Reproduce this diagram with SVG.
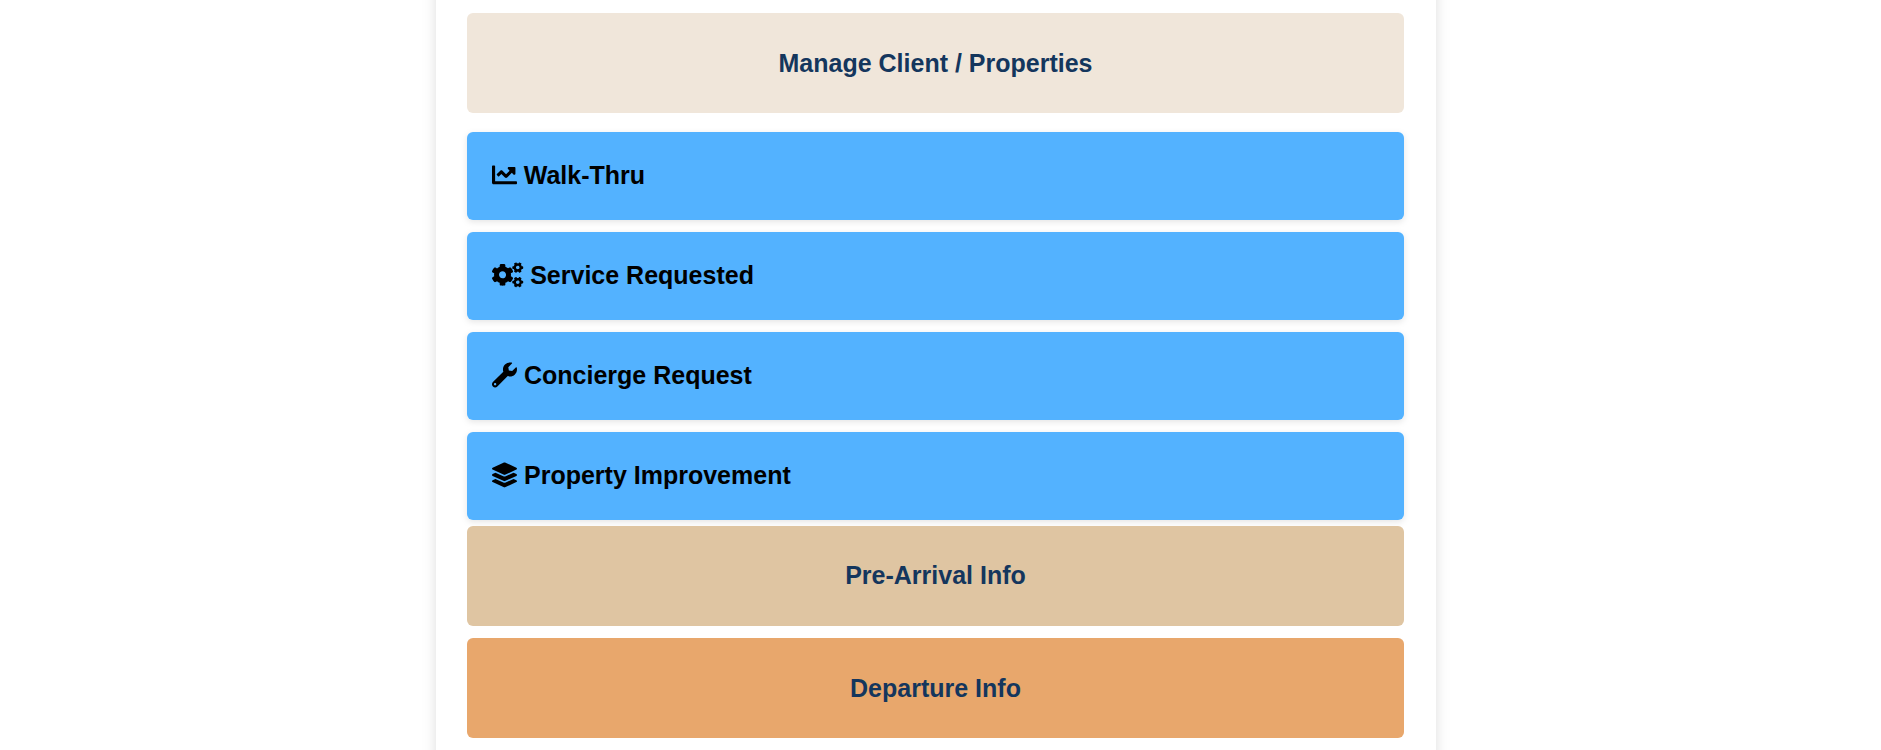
<svg xmlns="http://www.w3.org/2000/svg" width="1881" height="750" viewBox="0 0 1881 750">
<style>
text{font-family:"Liberation Sans",Arial,sans-serif;font-weight:700;font-size:25px}
.c{fill:#14365d;text-anchor:middle}
.b{fill:#000}
.blue{fill:#52b2ff;filter:url(#bs)}
</style>
<defs>
<filter id="cs" x="-5%" y="-10%" width="110%" height="120%"><feDropShadow dx="0" dy="0" stdDeviation="7" flood-color="#000" flood-opacity=".13"/></filter>
<filter id="bs" x="-3%" y="-30%" width="106%" height="160%"><feDropShadow dx="0" dy="2" stdDeviation="3" flood-color="#000" flood-opacity=".1"/></filter>
</defs>
<rect width="1881" height="750" fill="#fff"/>
<rect id="card" x="436" y="-40" width="1000" height="830" fill="#fff" filter="url(#cs)"/>
<g id="manage"><rect x="467" y="13" width="937" height="100" rx="6" fill="#f0e6da"/><text class="c" x="935.5" y="72">Manage Client / Properties</text></g>
<g id="walk-thru"><rect class="blue" x="467" y="132" width="937" height="88" rx="6"/>
<path transform="translate(492 162.4) scale(.0488)" d="M496 384H64V80c0-8.84-7.16-16-16-16H16C7.16 64 0 71.16 0 80v336c0 17.67 14.33 32 32 32h464c8.84 0 16-7.16 16-16v-32c0-8.84-7.16-16-16-16zM464 96H345.94c-21.38 0-32.09 25.85-16.97 40.97l32.4 32.4L288 242.75l-73.37-73.37c-12.5-12.5-32.76-12.5-45.25 0l-68.69 68.69c-6.25 6.25-6.25 16.38 0 22.63l22.62 22.62c6.25 6.25 16.38 6.25 22.63 0L192 237.25l73.37 73.37c12.5 12.5 32.76 12.5 45.25 0l96-96 32.4 32.4c15.12 15.12 40.97 4.41 40.97-16.97V112c.01-8.84-7.15-16-15.99-16z"/>
<text class="b" x="523.8" y="184">Walk-Thru</text></g>
<g id="service"><rect class="blue" x="467" y="232" width="937" height="88" rx="6"/>
<path transform="translate(492 262.4) scale(.0488)" d="M512.1 191l-8.2 14.3c-3 5.3-9.4 7.5-15.1 5.4-11.8-4.4-22.6-10.7-32.1-18.6-4.6-3.8-5.8-10.5-2.8-15.7l8.2-14.3c-6.9-8-12.3-17.3-15.9-27.4h-16.5c-6 0-11.2-4.3-12.2-10.3-2-12-2.1-24.6 0-37.1 1-6 6.2-10.4 12.2-10.4h16.5c3.6-10.1 9-19.4 15.9-27.4l-8.2-14.3c-3-5.2-1.9-11.9 2.8-15.7 9.5-7.9 20.4-14.2 32.1-18.6 5.7-2.1 12.1.1 15.1 5.4l8.2 14.3c10.5-1.9 21.2-1.9 31.7 0L552 6.3c3-5.3 9.4-7.5 15.1-5.4 11.8 4.4 22.6 10.7 32.1 18.6 4.6 3.8 5.8 10.5 2.8 15.7l-8.2 14.3c6.9 8 12.3 17.3 15.9 27.4h16.5c6 0 11.2 4.3 12.2 10.3 2 12 2.1 24.6 0 37.1-1 6-6.2 10.4-12.2 10.4h-16.5c-3.6 10.1-9 19.4-15.9 27.4l8.2 14.3c3 5.2 1.9 11.9-2.8 15.7-9.5 7.9-20.4 14.2-32.1 18.6-5.7 2.1-12.1-.1-15.1-5.4l-8.2-14.3c-10.4 1.9-21.2 1.9-31.7 0zm-10.5-58.8c38.5 29.6 82.4-14.3 52.8-52.8-38.5-29.7-82.4 14.3-52.8 52.8zM386.3 286.1l33.7 16.8c10.1 5.8 14.5 18.1 10.5 29.1-8.9 24.2-26.4 46.4-42.6 65.8-7.4 8.9-20.2 11.1-30.3 5.3l-29.1-16.8c-16 13.7-34.6 24.6-54.9 31.7v33.6c0 11.6-8.3 21.6-19.7 23.6-24.6 4.2-50.4 4.4-75.9 0-11.5-2-20-11.9-20-23.6V418c-20.3-7.2-38.9-18-54.9-31.7L74 403c-10 5.8-22.9 3.6-30.3-5.3-16.2-19.4-33.3-41.6-42.2-65.7-4-10.9.4-23.2 10.5-29.1l33.3-16.8c-3.9-20.9-3.9-42.4 0-63.4L12 205.8c-10.1-5.8-14.6-18.1-10.5-29 8.9-24.2 26-46.4 42.2-65.8 7.4-8.9 20.2-11.1 30.3-5.3l29.1 16.8c16-13.7 34.6-24.6 54.9-31.7V57.1c0-11.5 8.2-21.5 19.6-23.5 24.6-4.2 50.5-4.4 76-.1 11.5 2 20 11.9 20 23.6v33.6c20.3 7.2 38.9 18 54.9 31.7l29.1-16.8c10-5.8 22.9-3.6 30.3 5.3 16.2 19.4 33.2 41.6 42.1 65.8 4 10.9.1 23.2-10 29.1l-33.7 16.8c3.9 21 3.9 42.5 0 63.5zm-117.6 21.1c59.2-77-28.7-164.9-105.7-105.7-59.2 77 28.7 164.9 105.7 105.7zm243.4 182.7l-8.2 14.3c-3 5.3-9.4 7.5-15.1 5.4-11.8-4.4-22.6-10.7-32.1-18.6-4.6-3.8-5.8-10.5-2.8-15.7l8.2-14.3c-6.9-8-12.3-17.3-15.9-27.4h-16.5c-6 0-11.2-4.3-12.2-10.3-2-12-2.1-24.6 0-37.1 1-6 6.2-10.4 12.2-10.4h16.5c3.6-10.1 9-19.4 15.9-27.4l-8.2-14.3c-3-5.2-1.9-11.9 2.8-15.7 9.5-7.9 20.4-14.2 32.1-18.6 5.7-2.1 12.1.1 15.1 5.4l8.2 14.3c10.5-1.9 21.2-1.9 31.7 0l8.2-14.3c3-5.3 9.4-7.5 15.1-5.4 11.8 4.4 22.6 10.7 32.1 18.6 4.6 3.8 5.8 10.5 2.8 15.7l-8.2 14.3c6.9 8 12.3 17.3 15.9 27.4h16.5c6 0 11.2 4.3 12.2 10.3 2 12 2.1 24.6 0 37.1-1 6-6.2 10.4-12.2 10.4h-16.5c-3.6 10.1-9 19.4-15.9 27.4l8.2 14.3c3 5.2 1.9 11.9-2.8 15.7-9.5 7.9-20.4 14.2-32.1 18.6-5.7 2.1-12.1-.1-15.1-5.4l-8.2-14.3c-10.4 1.9-21.2 1.9-31.7 0zM501.6 431c38.5 29.6 82.4-14.3 52.8-52.8-38.5-29.6-82.4 14.3-52.8 52.8z"/>
<text class="b" x="530.2" y="284">Service Requested</text></g>
<g id="concierge"><rect class="blue" x="467" y="332" width="937" height="88" rx="6"/>
<path transform="translate(492 362.4) scale(.0488)" d="M507.73 109.1c-2.24-9.03-13.54-12.09-20.12-5.51l-74.36 74.36-67.88-11.31-11.31-67.88 74.36-74.36c6.62-6.62 3.43-17.9-5.66-20.16-47.38-11.74-99.55.91-136.58 37.93-39.64 39.64-50.55 97.1-34.05 147.2L18.74 402.76c-24.99 24.99-24.99 65.51 0 90.5 24.99 24.99 65.51 24.99 90.5 0l213.21-213.21c50.12 16.71 107.47 5.68 147.37-34.22 37.07-37.07 49.7-89.32 37.91-136.73zM64 472c-13.25 0-24-10.75-24-24 0-13.26 10.75-24 24-24s24 10.74 24 24c0 13.25-10.75 24-24 24z"/>
<text class="b" x="524" y="384">Concierge Request</text></g>
<g id="improvement"><rect class="blue" x="467" y="432" width="937" height="88" rx="6"/>
<path transform="translate(492 462.4) scale(.0488)" d="M12.41 148.02l232.94 105.67c6.8 3.09 14.49 3.09 21.29 0l232.94-105.67c16.55-7.51 16.55-32.52 0-40.03L266.65 2.31a25.607 25.607 0 0 0-21.29 0L12.41 107.98c-16.55 7.51-16.55 32.53 0 40.04zm487.18 88.28l-58.09-26.33-161.64 73.27c-7.56 3.43-15.59 5.17-23.86 5.17s-16.29-1.74-23.86-5.17L70.51 209.97l-58.1 26.33c-16.55 7.5-16.55 32.5 0 40l232.94 105.59c6.8 3.08 14.49 3.08 21.29 0L499.59 276.3c16.55-7.5 16.55-32.5 0-40zm0 127.8l-57.87-26.23-161.86 73.37c-7.56 3.43-15.59 5.17-23.86 5.17s-16.29-1.74-23.86-5.17L70.29 337.87 12.41 364.1c-16.55 7.5-16.55 32.5 0 40l232.94 105.59c6.8 3.08 14.49 3.08 21.29 0L499.59 404.1c16.55-7.5 16.55-32.5 0-40z"/>
<text class="b" x="524" y="484">Property Improvement</text></g>
<g id="pre-arrival"><rect x="467" y="526" width="937" height="100" rx="6" fill="#dfc5a2"/><text class="c" x="935.5" y="584">Pre-Arrival Info</text></g>
<g id="departure"><rect x="467" y="638" width="937" height="100" rx="6" fill="#e8a76c"/><text class="c" x="935.5" y="697">Departure Info</text></g>
<g id="connectors"/>
</svg>
